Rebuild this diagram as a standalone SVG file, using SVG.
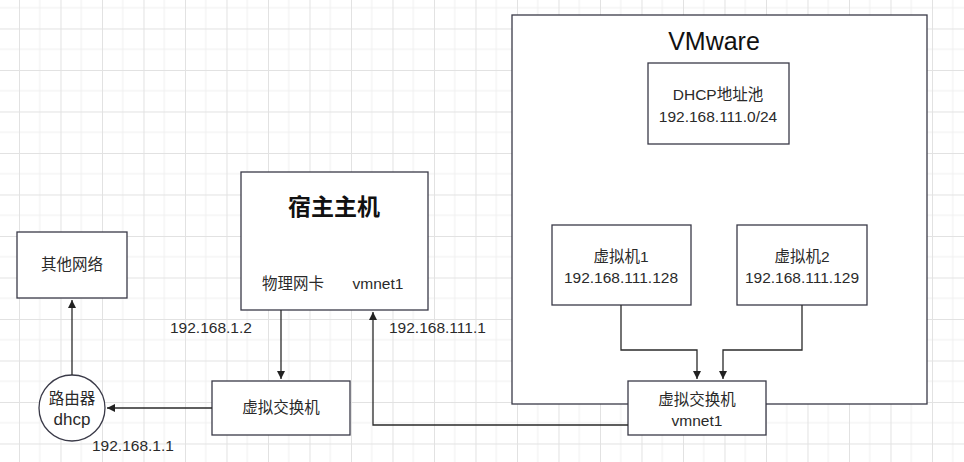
<svg xmlns="http://www.w3.org/2000/svg" width="964" height="462" viewBox="0 0 964 462">
<defs>
<pattern id="grid" x="19" y="28.5" width="41.5" height="41.5" patternUnits="userSpaceOnUse">
<path d="M20.75 0V41.5M0 20.75H41.5" stroke="#f0f0f0" stroke-width="1" fill="none"/>
<path d="M0.5 0V41.5M0 0.5H41.5" stroke="#e2e2e2" stroke-width="1" fill="none"/>
</pattern>
<marker id="arr" markerWidth="10" markerHeight="10" refX="8" refY="4" orient="auto" markerUnits="userSpaceOnUse">
<path d="M0 0L8 4L0 8Z" fill="#222"/>
</marker>
<style>
.box{fill:#fff;stroke:#3a3a48;stroke-width:1.3}
.t{font-family:"Liberation Sans","Noto Sans CJK SC",sans-serif;font-size:15.5px;fill:#2a2a2a;text-anchor:middle}
.lbl{font-family:"Liberation Sans","Noto Sans CJK SC",sans-serif;font-size:15.5px;fill:#2a2a2a}
.ln{fill:none;stroke:#2a2a2a;stroke-width:1.3}
</style>
</defs>
<rect width="964" height="462" fill="#fff"/>
<rect width="964" height="462" fill="url(#grid)"/>

<g id="vmware">
<rect class="box" x="512" y="15" width="415" height="389"/>
<text class="t" x="714" y="50" style="font-size:25px;fill:#111">VMware</text>
</g>
<g id="dhcp-pool">
<rect class="box" x="648" y="63" width="141" height="81"/>
<text class="t" x="718" y="100">DHCP地址池</text>
<text class="t" x="718" y="122">192.168.111.0/24</text>
</g>
<g id="vm1">
<rect class="box" x="552" y="225" width="139" height="80"/>
<text class="t" x="621" y="262">虚拟机1</text>
<text class="t" x="621" y="283">192.168.111.128</text>
</g>
<g id="vm2">
<rect class="box" x="737" y="225" width="130" height="80"/>
<text class="t" x="802" y="262">虚拟机2</text>
<text class="t" x="802" y="283">192.168.111.129</text>
</g>
<g id="vswitch-vmnet1">
<rect class="box" x="628" y="381" width="138" height="54"/>
<text class="t" x="697" y="405">虚拟交换机</text>
<text class="t" x="697" y="426">vmnet1</text>
</g>
<g id="host">
<rect class="box" x="241" y="172" width="187" height="138"/>
<text class="t" x="334" y="215" style="font-size:23px;font-weight:bold;fill:#111">宿主主机</text>
<text class="t" x="293" y="289">物理网卡</text>
<text class="t" x="378" y="289">vmnet1</text>
</g>
<g id="vswitch">
<rect class="box" x="212" y="381" width="138" height="54"/>
<text class="t" x="281" y="413">虚拟交换机</text>
</g>
<g id="other-net">
<rect class="box" x="17" y="232" width="110" height="66"/>
<text class="t" x="72" y="270">其他网络</text>
</g>
<g id="router">
<circle class="box" cx="72" cy="408" r="33"/>
<text class="t" x="72" y="404">路由器</text>
<text class="t" x="72" y="425" style="font-size:17px">dhcp</text>
</g>

<g id="connectors">
<path class="ln" d="M621 305V350H697V379" marker-end="url(#arr)"/>
<path class="ln" d="M802 305V350H723V379" marker-end="url(#arr)"/>
<path class="ln" d="M628 425H373V312" marker-end="url(#arr)"/>
<path class="ln" d="M281 310V379" marker-end="url(#arr)"/>
<path class="ln" d="M212 408H107" marker-end="url(#arr)"/>
<path class="ln" d="M72 375V300" marker-end="url(#arr)"/>
</g>

<g id="labels">
<text class="lbl" x="170" y="333">192.168.1.2</text>
<text class="lbl" x="389" y="333">192.168.111.1</text>
<text class="lbl" x="92" y="451">192.168.1.1</text>
</g>
</svg>
